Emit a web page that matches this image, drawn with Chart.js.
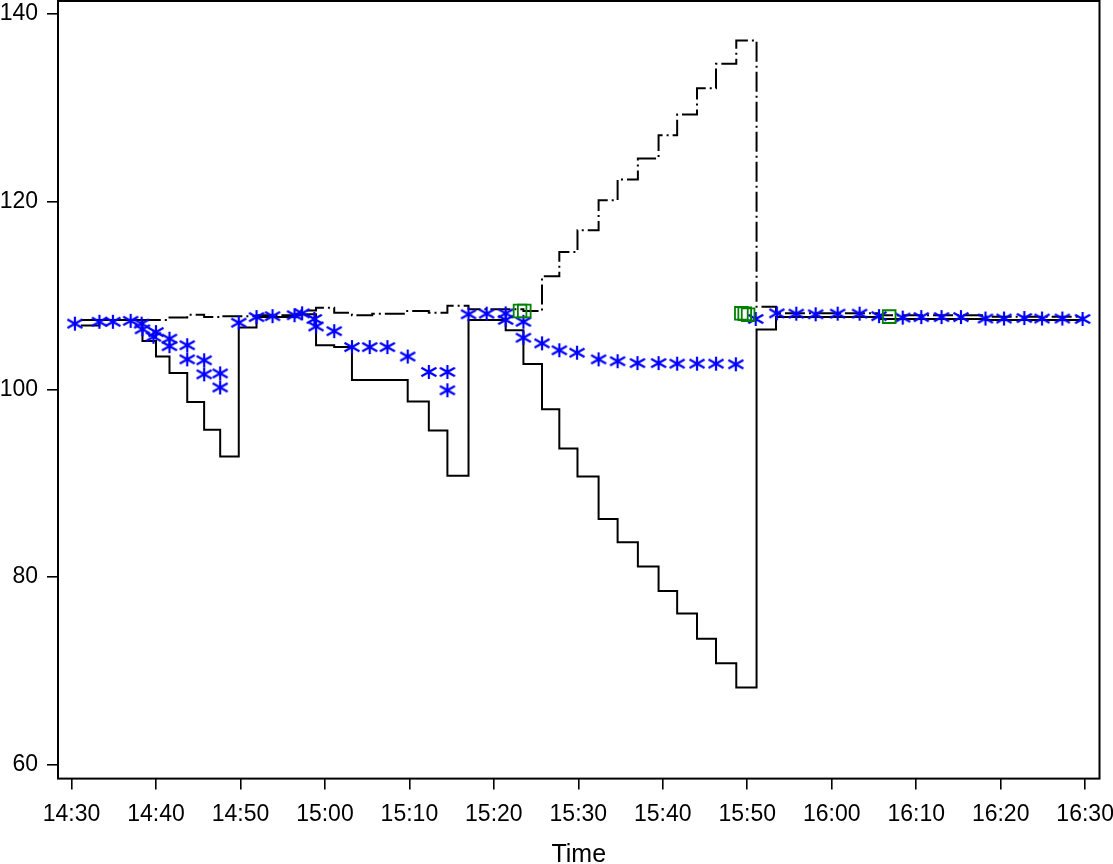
<!DOCTYPE html>
<html>
<head>
<meta charset="utf-8">
<script src="https://cdn.jsdelivr.net/npm/chart.js@4/dist/chart.umd.min.js"></script>
<style>
  html, body { margin: 0; padding: 0; background: #fff; }
  canvas { display: block; }
</style>
</head>
<body>
<canvas id="c" width="1113" height="864"></canvas>
<script>
// Times are minutes after 14:30
const xTickValues = [0, 10, 20, 30, 40, 50, 60, 70, 80, 90, 100, 110, 120];
const xTickLabels = ['14:30','14:40','14:50','15:00','15:10','15:20','15:30','15:40','15:50','16:00','16:10','16:20','16:30'];
const yTickValues = [60, 80, 100, 120, 140];

// Upper limit (dash-dot step line)
const upperTimes  = [1.1, 11.6, 13.7, 15.7, 17.6, 21.9, 27.2, 28.95, 31.1, 33.2, 35.6, 39.6, 42.3, 44.5, 47.0, 53.5, 55.7, 57.75, 59.9, 62.4, 64.65, 67.05, 69.5, 71.7, 74.05, 76.3, 78.7, 81.1, 83.4, 95.6, 108.2, 119.8];
const upperValues = [107.4, 107.65, 107.95, 107.7, 107.8, 107.9, 108.4, 108.7, 108.17, 107.9, 108.07, 108.35, 108.17, 108.9, 108.55, 108.35, 112.05, 114.65, 116.96, 120.16, 122.37, 124.6, 127.1, 129.3, 132.1, 134.7, 137.2, 108.8, 108.1, 107.9, 107.75, 107.75];

// Lower limit (solid step line)
const lowerTimes  = [1.1, 3.3, 8.4, 10.0, 11.6, 13.7, 15.7, 17.6, 19.8, 21.9, 26.6, 28.95, 31.1, 33.2, 39.8, 42.3, 44.5, 47.0, 51.4, 53.5, 55.7, 57.75, 59.9, 62.4, 64.65, 67.05, 69.5, 71.7, 74.05, 76.3, 78.7, 81.1, 83.4, 95.6, 108.2, 119.8];
const lowerValues = [106.8, 107.4, 105.15, 103.5, 101.74, 98.65, 95.7, 92.85, 106.6, 107.7, 108.0, 104.7, 104.5, 101.0, 98.7, 95.6, 90.8, 107.4, 106.3, 102.7, 97.87, 93.7, 90.7, 86.17, 83.7, 81.1, 78.5, 76.1, 73.4, 70.8, 68.2, 106.37, 107.7, 107.5, 107.4, 107.4];

// Observations (blue asterisks)
const obsTimes  = [0.4, 3.3, 4.9, 7.0, 8.3, 8.4, 9.7, 10.0, 11.6, 11.6, 13.7, 13.7, 15.7, 15.7, 17.6, 17.6, 19.8, 21.9, 23.8, 26.4, 27.3, 28.75, 28.95, 31.1, 33.2, 35.3, 37.4, 39.8, 42.3, 44.5, 44.5, 47.0, 49.15, 51.4, 51.4, 53.5, 53.5, 55.7, 57.75, 59.85, 62.4, 64.65, 67.0, 69.5, 71.7, 74.05, 76.3, 78.65, 81.0, 83.5, 85.8, 88.1, 90.7, 93.3, 95.6, 98.4, 100.6, 103.0, 105.3, 108.2, 110.4, 112.8, 114.9, 117.3, 119.7];
const obsValues = [107.0, 107.2, 107.2, 107.3, 107.0, 106.4, 105.6, 106.1, 105.4, 104.6, 104.7, 103.2, 103.1, 101.6, 101.7, 100.2, 107.1, 107.7, 107.8, 107.9, 108.1, 107.5, 106.7, 106.2, 104.5, 104.5, 104.5, 103.5, 101.85, 101.85, 99.9, 108.0, 108.07, 108.1, 107.4, 107.2, 105.5, 104.9, 104.16, 103.9, 103.2, 103.0, 102.8, 102.8, 102.74, 102.74, 102.74, 102.67, 107.5, 108.1, 108.07, 108.0, 108.07, 108.07, 107.8, 107.65, 107.7, 107.7, 107.7, 107.55, 107.55, 107.6, 107.55, 107.55, 107.5];

// Flagged points (green squares)
const flagTimes  = [53.1, 53.6, 79.3, 79.7, 80.1, 96.8];
const flagValues = [108.35, 108.35, 108.1, 108.05, 107.95, 107.75];

function pts(xs, ys) { return xs.map((x, i) => ({ x: x, y: ys[i] })); }

function makeAsterisk() {
  const c = document.createElement('canvas');
  c.width = 20; c.height = 20;
  const g = c.getContext('2d');
  g.strokeStyle = '#0000ff';
  g.lineWidth = 2.2;
  g.beginPath();
  g.moveTo(10, 3); g.lineTo(10, 17);
  g.moveTo(2.5, 5.7); g.lineTo(17.5, 14.3);
  g.moveTo(2.5, 14.3); g.lineTo(17.5, 5.7);
  g.stroke();
  return c;
}
const asterisk = makeAsterisk();

const framePlugin = {
  id: 'frame',
  beforeDatasetsDraw(chart) {
    const a = chart.chartArea, ctx = chart.ctx;
    ctx.save();
    ctx.strokeStyle = '#000';
    ctx.lineWidth = 2;
    ctx.strokeRect(a.left, a.top, a.right - a.left, a.bottom - a.top);
    ctx.restore();
  }
};

Chart.defaults.font.family = "'Liberation Sans', Arial, sans-serif";
Chart.defaults.color = '#000';

function zeroPad(s) { s.paddingTop = 0; s.paddingBottom = 0; s.paddingLeft = 0; s.paddingRight = 0; }

new Chart(document.getElementById('c'), {
  type: 'line',
  data: {
    datasets: [
      {
        label: 'flag', data: pts(flagTimes, flagValues), showLine: false,
        pointStyle: 'rect', pointRadius: 9, pointBorderColor: '#008000',
        pointBackgroundColor: 'rgba(0,0,0,0)', pointBorderWidth: 1.8, order: 1
      },
      {
        label: 'obs', data: pts(obsTimes, obsValues), showLine: false,
        pointStyle: asterisk, pointRadius: 9, order: 2
      },
      {
        label: 'upper', data: pts(upperTimes, upperValues), stepped: true,
        borderColor: '#000', borderWidth: 2, borderDash: [20, 4, 2, 4],
        pointRadius: 0, fill: false, order: 3
      },
      {
        label: 'lower', data: pts(lowerTimes, lowerValues), stepped: true,
        borderColor: '#000', borderWidth: 2,
        pointRadius: 0, fill: false, order: 4
      }
    ]
  },
  options: {
    responsive: false,
    animation: false,
    devicePixelRatio: 1,
    layout: { autoPadding: false, padding: { top: 1, right: 13.5, left: 0, bottom: 0 } },
    plugins: { legend: { display: false }, tooltip: { enabled: false } },
    scales: {
      x: {
        type: 'linear', min: -1.6, max: 121.7,
        border: { display: false },
        grid: { drawOnChartArea: false, drawTicks: true, tickLength: 11, color: '#000', lineWidth: 1.6 },
        ticks: {
          autoSkip: false, maxRotation: 0, padding: 11,
          font: { size: 23 },
          callback: (v) => xTickLabels[xTickValues.indexOf(v)]
        },
        title: { display: true, text: 'Time', font: { size: 25, lineHeight: 0.7 }, padding: { top: 0, bottom: 0 } },
        afterBuildTicks: (s) => { s.ticks = xTickValues.map(v => ({ value: v })); },
        afterFit: (s) => { s.height = 85.4; zeroPad(s); }
      },
      y: {
        type: 'linear', min: 58.5, max: 141.4,
        border: { display: false },
        grid: { drawOnChartArea: false, drawTicks: true, tickLength: 11, color: '#000', lineWidth: 1.6 },
        ticks: { padding: 9, font: { size: 23 }, callback: (v) => String(v) },
        afterBuildTicks: (s) => { s.ticks = yTickValues.map(v => ({ value: v })); },
        afterFit: (s) => { s.width = 58; zeroPad(s); }
      }
    }
  },
  plugins: [framePlugin]
});
</script>
</body>
</html>
